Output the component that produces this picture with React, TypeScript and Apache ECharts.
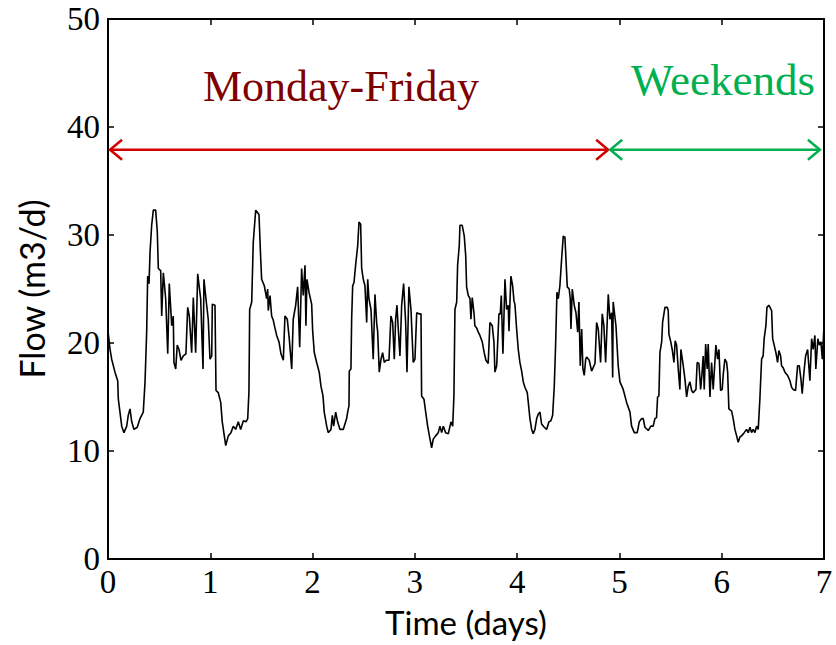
import { useEffect, useRef } from 'react';
import * as echarts from 'echarts';

// Time (days), Flow (m3/d) pairs, split per day
const day0: [number, number][] = [
  [0.0, 21.1], [0.02, 19.4], [0.036, 18.5], [0.068, 17.3], [0.095, 16.5], [0.101, 14.8], [0.117, 13.6],
  [0.134, 12.3], [0.156, 11.7], [0.183, 12.3], [0.198, 13.3], [0.215, 13.9], [0.232, 12.7], [0.254, 12.0],
  [0.286, 12.2], [0.313, 13.0], [0.345, 13.6], [0.362, 16.4], [0.378, 21.0], [0.388, 26.2], [0.401, 25.5],
  [0.411, 28.4], [0.427, 30.9], [0.443, 32.3], [0.466, 32.3], [0.482, 30.3], [0.492, 26.9], [0.515, 26.7],
  [0.525, 22.5], [0.541, 26.5], [0.564, 24.1], [0.584, 19.0], [0.599, 25.5], [0.623, 21.6], [0.638, 22.5],
  [0.645, 18.2], [0.662, 17.6], [0.677, 19.8], [0.694, 19.4], [0.714, 18.4], [0.736, 18.8], [0.762, 19.0],
  [0.779, 23.3], [0.795, 22.5], [0.818, 19.1], [0.834, 24.2], [0.857, 19.1], [0.877, 26.4], [0.906, 24.1],
  [0.929, 17.6], [0.938, 25.9], [0.961, 23.8], [0.98, 22.2], [0.997, 18.5], [1.014, 18.8], [1.02, 23.6],
  [1.046, 23.5], [1.056, 15.6], [1.078, 15.4], [1.102, 14.5], [1.117, 12.7], [1.151, 10.5],
];
const day1: [number, number][] = [
  [1.176, 11.4], [1.202, 11.7], [1.225, 12.3], [1.248, 12.0], [1.274, 12.7], [1.297, 12.0], [1.323, 12.8],
  [1.349, 12.7], [1.366, 13.0], [1.378, 15.5], [1.385, 23.1], [1.405, 23.8], [1.42, 29.3], [1.444, 32.3],
  [1.476, 31.9], [1.493, 27.8], [1.502, 25.9], [1.528, 25.3], [1.551, 24.1], [1.561, 25.0], [1.567, 23.0],
  [1.584, 24.4], [1.6, 22.5], [1.616, 22.1], [1.632, 21.4], [1.649, 20.7], [1.672, 20.1], [1.691, 19.0],
  [1.714, 18.4], [1.73, 22.5], [1.753, 22.2], [1.772, 20.4], [1.796, 17.6], [1.811, 22.2], [1.835, 23.5],
  [1.854, 25.2], [1.874, 19.6], [1.893, 26.9], [1.909, 24.4], [1.926, 27.2], [1.935, 21.6], [1.945, 25.9],
  [1.965, 24.7], [1.991, 23.6], [2.001, 21.1], [2.017, 19.1], [2.04, 18.2], [2.065, 17.3], [2.082, 16.0],
  [2.102, 15.1], [2.114, 13.6], [2.138, 12.3], [2.153, 11.7], [2.18, 12.0], [2.193, 13.3], [2.206, 12.3],
  [2.226, 13.6], [2.245, 12.7], [2.268, 12.0], [2.3, 12.0], [2.333, 13.0],
];
const day2: [number, number][] = [
  [2.343, 13.6], [2.356, 14.2], [2.359, 17.4], [2.375, 17.6], [2.382, 22.2], [2.392, 25.3], [2.405, 25.6],
  [2.424, 27.5], [2.441, 29.0], [2.454, 31.2], [2.47, 31.0], [2.48, 26.9], [2.496, 25.9], [2.512, 25.3],
  [2.529, 21.9], [2.539, 25.9], [2.551, 24.1], [2.571, 23.1], [2.593, 18.5], [2.61, 24.5], [2.627, 21.8],
  [2.636, 21.1], [2.652, 17.3], [2.669, 18.5], [2.685, 19.1], [2.701, 18.2], [2.72, 18.4], [2.747, 18.4],
  [2.766, 22.5], [2.783, 21.9], [2.799, 18.5], [2.812, 22.2], [2.825, 23.5], [2.838, 21.3], [2.854, 18.8],
  [2.871, 23.5], [2.89, 25.5], [2.91, 21.9], [2.923, 17.3], [2.942, 25.2], [2.962, 23.1], [2.984, 18.2],
  [3.001, 18.5], [3.018, 22.8], [3.04, 22.7], [3.06, 22.7], [3.066, 15.1], [3.089, 14.8], [3.106, 13.6],
  [3.125, 12.3], [3.148, 11.1], [3.164, 10.3], [3.18, 11.1], [3.203, 11.4], [3.229, 11.7], [3.245, 12.3],
  [3.262, 11.7], [3.278, 12.3], [3.301, 11.7], [3.327, 11.6], [3.353, 12.7], [3.37, 12.3],
];
const day3: [number, number][] = [
  [3.382, 15.1], [3.392, 23.1], [3.409, 23.8], [3.418, 27.2], [3.434, 29.0], [3.441, 30.9], [3.463, 30.9],
  [3.483, 29.9], [3.497, 28.1], [3.506, 25.2], [3.522, 24.4], [3.539, 24.1], [3.548, 22.2], [3.561, 24.2],
  [3.578, 22.8], [3.587, 21.6], [3.604, 21.4], [3.62, 21.0], [3.636, 20.7], [3.659, 20.1], [3.678, 19.1],
  [3.695, 18.4], [3.717, 18.1], [3.734, 21.9], [3.757, 21.6], [3.773, 20.1], [3.783, 17.3], [3.8, 17.9],
  [3.822, 22.7], [3.835, 22.7], [3.845, 24.4], [3.861, 19.0], [3.881, 25.9], [3.897, 23.1], [3.913, 23.5],
  [3.92, 21.1], [3.939, 26.2], [3.956, 25.3], [3.969, 23.9], [3.978, 23.6], [3.995, 21.3], [4.011, 19.4],
  [4.027, 18.2], [4.044, 17.4], [4.06, 16.4], [4.076, 15.9], [4.099, 15.4], [4.109, 14.5], [4.125, 13.0],
  [4.142, 12.0], [4.157, 11.6], [4.174, 12.0], [4.191, 13.0], [4.206, 13.4], [4.223, 13.6], [4.239, 12.5],
  [4.265, 12.2], [4.288, 12.0], [4.311, 12.7], [4.33, 12.8], [4.347, 13.3],
];
const day4: [number, number][] = [
  [4.363, 16.0], [4.376, 19.8], [4.389, 24.7], [4.402, 24.1], [4.418, 25.3], [4.435, 27.8], [4.451, 29.9],
  [4.467, 29.8], [4.477, 27.8], [4.49, 25.2], [4.509, 25.0], [4.519, 24.1], [4.526, 21.3], [4.539, 25.0],
  [4.558, 23.5], [4.575, 22.8], [4.592, 21.0], [4.604, 23.8], [4.617, 17.9], [4.631, 21.3], [4.643, 17.6],
  [4.656, 17.0], [4.67, 18.5], [4.679, 18.7], [4.705, 18.4], [4.728, 17.4], [4.761, 18.1], [4.777, 21.9],
  [4.793, 21.3], [4.816, 18.2], [4.832, 22.7], [4.848, 21.6], [4.865, 18.2], [4.891, 24.5], [4.907, 22.2],
  [4.924, 22.8], [4.934, 16.8], [4.939, 23.8], [4.966, 21.6], [4.988, 17.9], [5.005, 16.4], [5.037, 15.7],
  [5.07, 14.5], [5.103, 13.6], [5.119, 12.3], [5.145, 11.7], [5.174, 11.7], [5.194, 12.7], [5.217, 13.0],
  [5.233, 13.0], [5.249, 12.2], [5.282, 11.9], [5.308, 12.3], [5.33, 12.3], [5.347, 13.0], [5.363, 13.1],
];
const day5: [number, number][] = [
  [5.373, 15.0], [5.386, 15.1], [5.396, 19.1], [5.413, 20.1], [5.422, 21.9], [5.445, 23.3], [5.467, 23.3],
  [5.477, 23.0], [5.484, 20.8], [5.5, 20.2], [5.516, 19.4], [5.533, 18.2], [5.545, 20.2], [5.559, 19.8],
  [5.575, 17.6], [5.591, 15.7], [5.601, 19.4], [5.624, 17.9], [5.64, 16.7], [5.657, 15.0], [5.673, 16.0],
  [5.689, 16.4], [5.706, 15.6], [5.721, 15.4], [5.748, 15.7], [5.76, 18.2], [5.777, 18.1], [5.794, 15.7],
  [5.806, 17.0], [5.819, 18.8], [5.829, 15.7], [5.843, 19.9], [5.858, 17.6], [5.868, 19.9], [5.885, 15.0],
  [5.901, 18.2], [5.917, 15.7], [5.943, 19.8], [5.96, 18.5], [5.973, 19.4], [5.989, 15.6], [6.005, 15.7],
  [6.015, 17.1], [6.031, 18.5], [6.048, 18.2], [6.058, 17.3], [6.07, 13.9], [6.097, 13.7], [6.112, 13.0],
  [6.129, 12.0], [6.146, 11.4], [6.161, 10.8], [6.178, 11.3], [6.194, 11.4], [6.22, 11.7], [6.243, 12.0],
  [6.259, 11.7], [6.276, 12.2], [6.292, 11.7], [6.308, 12.0], [6.325, 11.7], [6.341, 12.3], [6.357, 12.0],
];
const day6: [number, number][] = [
  [6.373, 14.8], [6.39, 18.5], [6.405, 18.8], [6.415, 20.4], [6.432, 21.6], [6.442, 23.3], [6.461, 23.5],
  [6.488, 23.0], [6.498, 20.4], [6.513, 19.8], [6.53, 19.1], [6.546, 18.2], [6.559, 19.3], [6.576, 18.8],
  [6.585, 17.9], [6.601, 17.7], [6.618, 17.3], [6.644, 17.0], [6.667, 16.5], [6.683, 15.9], [6.699, 15.7],
  [6.722, 15.6], [6.742, 17.9], [6.758, 17.9], [6.774, 16.7], [6.787, 15.3], [6.804, 17.3], [6.82, 18.8],
  [6.84, 19.4], [6.862, 16.5], [6.879, 20.4], [6.894, 19.4], [6.911, 20.7], [6.92, 17.6], [6.94, 20.4],
  [6.955, 19.8], [6.97, 20.1], [6.984, 18.5], [7.0, 21.6],
];

// Period arrows (start day, end day, flow level) and their labels
const ARROW_START = [0.02, 4.91];
const ARROW_END = [4.89, 6.96];
const ARROW_Y = [37.9, 37.9];
const ARROW_COLORS = ['#d40000', '#00b050'];
const PERIOD_LABELS = ['Monday-Friday', 'Weekends'];
const PERIOD_LABEL_COLORS = ['#7f0000', '#00b050'];

const X_MIN = 0;
const X_MAX = 7;
const X_STEP = 1;
const Y_MIN = 0;
const Y_MAX = 50;
const Y_STEP = 10;
const X_TITLE = 'Time (days)';
const Y_TITLE = 'Flow (m3/d)';

export default function App() {
  const ref = useRef<HTMLDivElement>(null);

  useEffect(() => {
    const chart = echarts.init(ref.current!, null, { renderer: 'svg' });
    const flow = [...day0, ...day1, ...day2, ...day3, ...day4, ...day5, ...day6];

    const axisLine = { show: true, onZero: false, lineStyle: { color: '#000', width: 2 } };
    const axisTick = { show: true, inside: true, length: 6, lineStyle: { color: '#000', width: 1.5 } };
    const tickFont = { fontFamily: '"Liberation Serif", serif', fontSize: 33, color: '#000' };
    const titleFont = { fontFamily: 'Lato, sans-serif', fontSize: 33, color: '#000' };

    chart.setOption({
      animation: false,
      backgroundColor: '#fff',
      grid: { left: 108, right: 12, top: 19, bottom: 86, containLabel: false },
      xAxis: [
        {
          type: 'value', min: X_MIN, max: X_MAX, interval: X_STEP, position: 'bottom',
          axisLine, axisTick, splitLine: { show: false },
          axisLabel: { ...tickFont, margin: 6 },
          name: X_TITLE, nameLocation: 'middle', nameGap: 46, nameTextStyle: titleFont,
        },
        {
          type: 'value', min: X_MIN, max: X_MAX, interval: X_STEP, position: 'top',
          axisLine, axisTick, splitLine: { show: false }, axisLabel: { show: false },
        },
      ],
      yAxis: [
        {
          type: 'value', min: Y_MIN, max: Y_MAX, interval: Y_STEP, position: 'left',
          axisLine, axisTick, splitLine: { show: false },
          axisLabel: { ...tickFont, margin: 8 },
          name: Y_TITLE, nameLocation: 'middle', nameGap: 60, nameRotate: 90,
          nameTextStyle: { ...titleFont, fontSize: 34 },
        },
        {
          type: 'value', min: Y_MIN, max: Y_MAX, interval: Y_STEP, position: 'right',
          axisLine, axisTick, splitLine: { show: false }, axisLabel: { show: false },
        },
      ],
      series: [
        {
          type: 'line',
          data: flow,
          showSymbol: false,
          symbol: 'none',
          lineStyle: { color: '#000', width: 1.6 },
          z: 2,
        },
        {
          type: 'custom',
          silent: true,
          clip: false,
          z: 3,
          data: ARROW_START.map((s, i) => [s, ARROW_END[i], ARROW_Y[i], i]),
          encode: { x: [0, 1], y: 2 },
          renderItem: (_params: any, api: any) => {
            const a = api.coord([api.value(0), api.value(2)]);
            const b = api.coord([api.value(1), api.value(2)]);
            const color = ARROW_COLORS[api.value(3)];
            const hx = 12;
            const hy = 10;
            const style = { stroke: color, lineWidth: 2.5, fill: 'none' };
            return {
              type: 'group',
              children: [
                { type: 'line', shape: { x1: a[0], y1: a[1], x2: b[0], y2: b[1] }, style },
                { type: 'polyline', shape: { points: [[a[0] + hx, a[1] - hy], [a[0], a[1]], [a[0] + hx, a[1] + hy]] }, style },
                { type: 'polyline', shape: { points: [[b[0] - hx, b[1] - hy], [b[0], b[1]], [b[0] - hx, b[1] + hy]] }, style },
              ],
            };
          },
        },
      ],
      graphic: [
        {
          type: 'text', x: 341, y: 86,
          style: {
            text: PERIOD_LABELS[0], font: '44px "Liberation Serif"', fill: PERIOD_LABEL_COLORS[0],
            textAlign: 'center', textVerticalAlign: 'middle', align: 'center', verticalAlign: 'middle',
          },
        },
        {
          type: 'text', x: 723, y: 80,
          style: {
            text: PERIOD_LABELS[1], font: '45px "Liberation Serif"', fill: PERIOD_LABEL_COLORS[1],
            textAlign: 'center', textVerticalAlign: 'middle', align: 'center', verticalAlign: 'middle',
          },
        },
      ],
    });

    return () => chart.dispose();
  }, []);

  return <div ref={ref} style={{ position: 'fixed', left: 0, top: 0, width: 836, height: 645 }} />;
}
